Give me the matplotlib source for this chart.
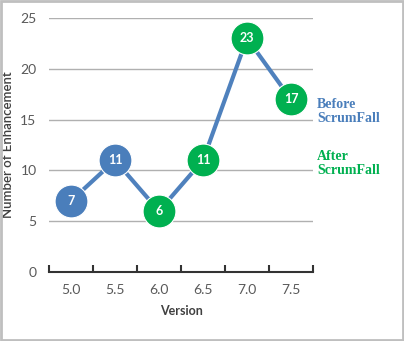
import matplotlib
matplotlib.use("Agg")
from matplotlib import pyplot as plt
from matplotlib.patches import Rectangle

versions = ["5.0", "5.5", "6.0", "6.5", "7.0", "7.5"]
enhancements = [7, 11, 6, 11, 23, 17]
phase = ["before", "before", "after", "after", "after", "after"]

blue = "#4a7ebb"
green = "#00b050"
colors = {"before": blue, "after": green}

plt.rcParams['font.family'] = ['Lato', 'DejaVu Sans']

fig = plt.figure(figsize=(4.04, 3.41), dpi=100)
ax = fig.add_axes([49 / 404, 69 / 341, 264 / 404, 254 / 341])

x = list(range(len(versions)))
ax.plot(x, enhancements, color="#4f81bd", linewidth=3, zorder=2)
for xi, yi, ph in zip(x, enhancements, phase):
    ax.scatter(xi, yi, s=560, color=colors[ph], edgecolor="white", linewidth=0.8, zorder=3)
    ax.text(xi, yi, str(yi), color="white", fontsize=9, fontweight="bold",
            ha="center", va="center", zorder=4)

ax.set_xlim(-0.5, len(versions) - 0.5)
ax.set_ylim(0, 25)
ax.set_yticks([0, 5, 10, 15, 20, 25])
ax.set_xticks(x)
ax.set_xticklabels(versions)
ax.set_xticks([i - 0.5 for i in range(len(versions) + 1)], minor=True)
ax.tick_params(axis="x", which="major", length=0, pad=9, labelsize=10, labelcolor="#595959")
ax.tick_params(axis="x", which="minor", length=5, width=1.5, color="#333333", direction="in")
ax.tick_params(axis="y", length=0, pad=9, labelsize=10, labelcolor="#595959")

for v in [5, 10, 15, 20, 25]:
    ax.axhline(v, color="#b0b0b0", linewidth=1, zorder=1)
for s in ["top", "right", "left"]:
    ax.spines[s].set_visible(False)
ax.spines["bottom"].set_color("#333333")
ax.spines["bottom"].set_linewidth(1.5)

ax.set_xlabel("Version", fontsize=9, fontweight="bold", color="#404040", labelpad=6)
ax.set_ylabel("Number of Enhancement", fontsize=9.5, fontweight="semibold", color="#404040")
ax.yaxis.set_label_coords(-35 / 264, 0.5)

fig.text(317 / 404, 1 - 112 / 341, "Before\nScrumFall", color=blue, fontsize=10,
         fontweight="bold", family="Liberation Serif", va="center", ha="left", linespacing=1.1)
fig.text(317 / 404, 1 - 163 / 341, "After\nScrumFall", color=green, fontsize=10,
         fontweight="bold", family="Liberation Serif", va="center", ha="left", linespacing=1.1)

fig.patches.append(Rectangle((0.002, 0.003), 0.995, 0.994, transform=fig.transFigure,
                             fill=False, edgecolor="#bfbfbf", linewidth=2))

fig.savefig("out.png", dpi=100)
